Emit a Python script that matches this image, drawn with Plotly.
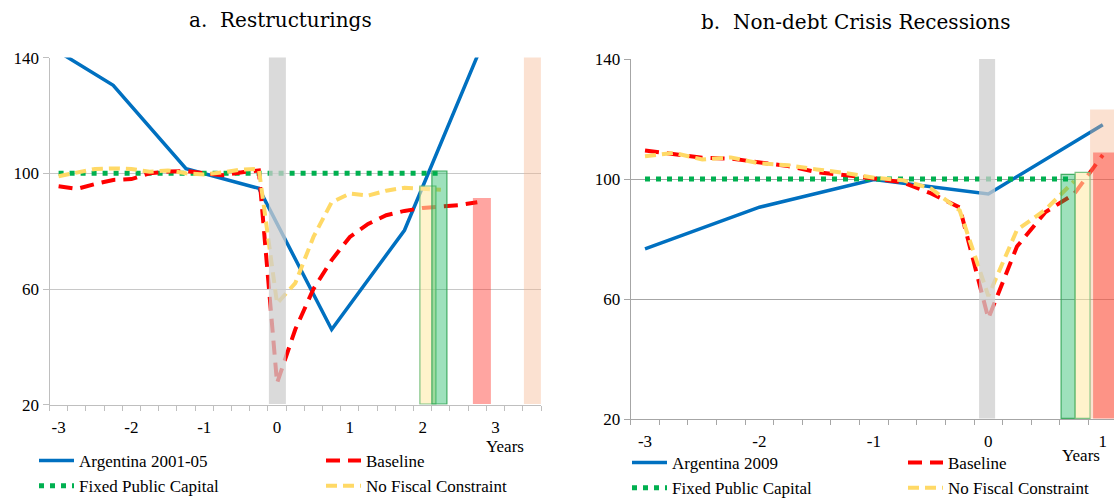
import plotly.graph_objects as go

# ---------------- data ----------------
# Panel a: Restructurings (quarterly, years relative to event)
a_quarters = [-3, -2.75, -2.5, -2.25, -2, -1.75, -1.5, -1.25, -1, -0.75, -0.5, -0.25,
              0, 0.25, 0.5, 0.75, 1, 1.25, 1.5, 1.75, 2, 2.25, 2.5, 2.75]
a_baseline = [95.5, 94.6, 96.3, 97.7, 98.0, 100.0, 100.6, 100.8, 100.0, 99.3, 100.3, 101.0,
              27.5, 46.0, 60.0, 70.0, 78.0, 82.5, 85.5, 87.0, 88.0, 88.5, 89.0, 90.0]
a_nofiscal = [99.0, 100.3, 101.5, 101.7, 101.5, 100.5, 101.0, 100.0, 99.6, 100.3, 101.3, 101.5,
              55.0, 62.0, 78.0, 90.0, 93.0, 92.3, 94.0, 95.0, 94.8, 94.3]
a_fixedcap = [100.0] * 22
a_arg_x = [-3, -2.25, -1.25, -0.25, 0.75, 1.75, 2.75]
a_argentina = [142.0, 130.4, 101.6, 94.8, 46.0, 80.3, 140.5]
# summary columns: event shading, no fiscal constraint, fixed public capital, baseline, Argentina
a_bar_vals = [140.0, 95.4, 100.6, 91.3, 146.0]

# Panel b: Non-debt crisis recessions
b_quarters = [-3, -2.75, -2.5, -2.25, -2, -1.75, -1.5, -1.25, -1, -0.75, -0.5, -0.25,
              0, 0.25, 0.5, 0.75, 1]
b_baseline = [109.5, 108.3, 107.1, 106.8, 105.7, 104.3, 102.3, 101.3, 100.2, 98.9, 95.2, 90.5,
              53.5, 77.5, 89.0, 95.0, 108.0]
b_nofiscal = [107.6, 108.7, 106.5, 107.2, 105.2, 104.6, 103.2, 102.0, 100.4, 99.6, 96.8, 89.5,
              61.0, 83.0, 89.8, 99.3]
b_fixedcap = [100.0] * 16
b_arg_x = [-3, -2, -1, 0, 1]
b_argentina = [76.7, 90.6, 99.8, 95.0, 118.1]
# summary columns: event shading, fixed public capital, no fiscal constraint, Argentina, baseline
b_bar_vals = [140.0, 101.4, 102.0, 123.1, 108.7]

year_ticks = [-3, -2, -1, 0, 1, 2, 3]
y_ticks = [20, 60, 100, 140]

# ---------------- style / layout ----------------
BLUE = "#0070C0"
RED = "#FF0000"
GREEN = "#00B050"
GOLD = "#FFD966"
SERIF = "Liberation Serif"

a_bar_x = [0.018, 2.08, 2.24, 2.825, 3.515]
a_bar_w = [0.23, 0.22, 0.20, 0.25, 0.23]
a_bar_col = ["rgba(205,205,205,0.75)", "rgba(255,235,170,0.6)", "rgba(0,176,80,0.38)",
             "rgba(255,40,30,0.42)", "rgba(245,180,140,0.4)"]
a_bar_line = ["rgba(0,0,0,0)", "rgba(112,190,120,0.9)", "rgba(50,165,85,0.9)",
              "rgba(0,0,0,0)", "rgba(0,0,0,0)"]

b_bar_x = [-0.003, 0.70, 0.83, 1.0, 1.01]
b_bar_w = [0.14, 0.125, 0.13, 0.21, 0.18]
b_bar_col = ["rgba(205,205,205,0.75)", "rgba(0,176,80,0.38)", "rgba(255,235,170,0.6)",
             "rgba(245,180,140,0.4)", "rgba(255,40,30,0.42)"]
b_bar_line = ["rgba(0,0,0,0)", "rgba(50,165,85,0.9)", "rgba(112,190,120,0.9)",
              "rgba(0,0,0,0)", "rgba(0,0,0,0)"]

fig = go.Figure()

def add_lines(xa, ya, leg1, leg2, qx, base, nofis, fixed, argx, arg, argname):
    fig.add_trace(go.Scatter(x=argx, y=arg, mode="lines", name=argname,
                             line=dict(color=BLUE, width=3.5), xaxis=xa, yaxis=ya, legend=leg1))
    fig.add_trace(go.Scatter(x=qx[:len(fixed)], y=fixed, mode="lines", name="Fixed Public Capital",
                             line=dict(color=GREEN, width=5, dash="5px,6px"), xaxis=xa, yaxis=ya, legend=leg1))
    fig.add_trace(go.Scatter(x=qx[:len(base)], y=base, mode="lines", name="Baseline",
                             line=dict(color=RED, width=4, dash="14px,8px"), xaxis=xa, yaxis=ya, legend=leg2))
    fig.add_trace(go.Scatter(x=qx[:len(nofis)], y=nofis, mode="lines", name="No Fiscal Constraint",
                             line=dict(color=GOLD, width=4, dash="11px,6px"), xaxis=xa, yaxis=ya, legend=leg2))

add_lines("x", "y", "legend", "legend2", a_quarters, a_baseline, a_nofiscal, a_fixedcap,
          a_arg_x, a_argentina, "Argentina 2001-05")
add_lines("x2", "y2", "legend3", "legend4", b_quarters, b_baseline, b_nofiscal, b_fixedcap,
          b_arg_x, b_argentina, "Argentina 2009")

# columns drawn on overlay axes so they sit above the lines (semi-transparent)
fig.add_trace(go.Bar(x=a_bar_x, y=[v - 20 for v in a_bar_vals], base=20, width=a_bar_w,
                     marker=dict(color=a_bar_col, line=dict(color=a_bar_line, width=1.2)),
                     xaxis="x3", yaxis="y3", showlegend=False, hoverinfo="skip"))
fig.add_trace(go.Bar(x=b_bar_x, y=[v - 20 for v in b_bar_vals], base=20, width=b_bar_w,
                     marker=dict(color=b_bar_col, line=dict(color=b_bar_line, width=1.2)),
                     xaxis="x4", yaxis="y4", showlegend=False, hoverinfo="skip"))

W, H = 1114, 498
a_dom_x = [49.5 / W, 541 / W]
a_dom_y = [(H - 404.7) / H, (H - 57.6) / H]
b_dom_x = [630.7 / W, 1.0]
b_dom_y = [(H - 419) / H, (H - 59) / H]
a_range = [-3.125, 3.625]
b_range = [-3.125, 1.098]

TXT = dict(family=SERIF, size=17, color="black")

def xax(dom, rng, lc, anchor):
    return dict(domain=dom, range=rng, anchor=anchor, tickvals=year_ticks,
                ticktext=[str(t) for t in year_ticks], ticks="outside", ticklen=0,
                ticklabelstandoff=7, showline=True, linecolor=lc, linewidth=1,
                showgrid=False, zeroline=False, tickfont=TXT,
                minor=dict(tickvals=[rng[0] + 0.25 * k for k in range(40) if rng[0] + 0.25 * k <= rng[1] + 1e-9],
                           ticks="outside", ticklen=5, tickcolor=lc, tickwidth=1, showgrid=False))

def yax(dom, lc, gc, anchor):
    return dict(domain=dom, range=[20, 140], anchor=anchor, tickvals=y_ticks,
                ticks="outside", ticklen=6, tickcolor=lc, showline=True, linecolor=lc, linewidth=1,
                showgrid=True, gridcolor=gc, gridwidth=1, zeroline=False, tickfont=TXT)

leg_common = dict(orientation="v", xanchor="left", yanchor="top", bgcolor="rgba(0,0,0,0)",
                  font=TXT, itemwidth=35, tracegroupgap=0, traceorder="normal")

fig.update_layout(
    width=W, height=H, margin=dict(l=0, r=0, t=0, b=0, autoexpand=False),
    font=TXT,
    paper_bgcolor="white", plot_bgcolor="white", barmode="overlay", bargap=0,
    xaxis=xax(a_dom_x, a_range, "#BFBFBF", "y"),
    yaxis=yax(a_dom_y, "#BFBFBF", "#C8C8C8", "x"),
    xaxis2=xax(b_dom_x, b_range, "#A6A6A6", "y2"),
    yaxis2=yax(b_dom_y, "#A6A6A6", "#A6A6A6", "x2"),
    xaxis3=dict(overlaying="x", range=a_range, visible=False, anchor="y3"),
    yaxis3=dict(overlaying="y", range=[20, 140], visible=False, anchor="x3"),
    xaxis4=dict(overlaying="x2", range=b_range, visible=False, anchor="y4"),
    yaxis4=dict(overlaying="y2", range=[20, 140], visible=False, anchor="x4"),
    legend=dict(x=34 / W, y=(H - 443) / H, **leg_common),
    legend2=dict(x=321 / W, y=(H - 443) / H, **leg_common),
    legend3=dict(x=627 / W, y=(H - 445) / H, **leg_common),
    legend4=dict(x=903 / W, y=(H - 445) / H, **leg_common),
    annotations=[
        dict(text="a.  Restructurings", x=280 / W, y=(H - 20) / H, xref="paper", yref="paper",
             xanchor="center", yanchor="middle", showarrow=False,
             font=dict(family="DejaVu Serif", size=20, color="black")),
        dict(text="b.  Non-debt Crisis Recessions", x=855 / W, y=(H - 22) / H, xref="paper", yref="paper",
             xanchor="center", yanchor="middle", showarrow=False,
             font=dict(family="DejaVu Serif", size=20, color="black")),
        dict(text="Years", x=505 / W, y=(H - 446) / H, xref="paper", yref="paper",
             xanchor="center", yanchor="middle", showarrow=False, font=TXT),
        dict(text="Years", x=1081 / W, y=(H - 455) / H, xref="paper", yref="paper",
             xanchor="center", yanchor="middle", showarrow=False, font=TXT),
    ],
)

fig.write_html("out.html")
